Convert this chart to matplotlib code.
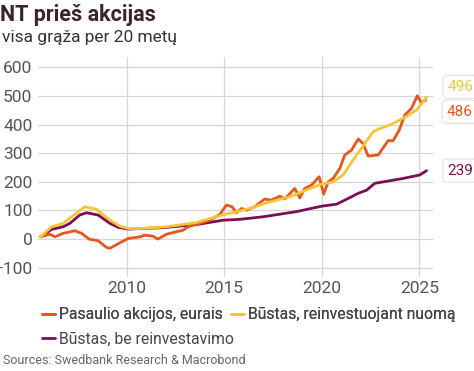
import numpy as np
import matplotlib.pyplot as plt

plt.rcParams['font.family'] = ['Roboto', 'DejaVu Sans']

# Pasaulio akcijos, eurais (world stocks, EUR) - cumulative return, %
stocks_x = [2005.6, 2006.07, 2006.33, 2006.75, 2007.35, 2007.7, 2008.08, 2008.55, 2008.97, 2009.15,
            2009.66, 2010.08, 2010.7, 2010.94, 2011.36, 2011.6, 2012.05, 2012.56, 2012.9, 2013.15,
            2013.75, 2014.27, 2014.78, 2015.12, 2015.4, 2015.64, 2015.89, 2016.15, 2016.57, 2017.08,
            2017.43, 2017.85, 2018.1, 2018.62, 2018.88, 2019.13, 2019.48, 2019.87, 2020.1, 2020.33,
            2020.58, 2020.93, 2021.18, 2021.53, 2021.87, 2022.12, 2022.38, 2022.9, 2023.4, 2023.66,
            2023.97, 2024.26, 2024.6, 2024.9, 2025.11, 2025.33]
stocks_y = [8, 17, 8, 20, 29, 20, 0, -6, -29, -32,
            -13, 2, 8, 14, 10, 0, 17, 26, 31, 43,
            55, 66, 86, 119, 113, 92, 107, 101, 113, 140,
            136, 150, 140, 177, 144, 177, 189, 218, 157, 200,
            212, 247, 294, 311, 350, 334, 290, 294, 344, 344,
            381, 434, 457, 501, 477, 486]

# Būstas, reinvestuojant nuomą (housing incl. reinvested rent)
rent_x = [2005.6, 2006.16, 2006.75, 2007.18, 2007.86, 2008.46, 2009.15, 2009.66, 2010.08, 2010.7,
          2011.9, 2012.9, 2013.6, 2014.27, 2015.0, 2015.3, 2016.3, 2017.34, 2018.37, 2019.4,
          2020.0, 2020.58, 2021.1, 2021.6, 2022.12, 2022.63, 2023.0, 2023.5, 2024.17, 2024.86, 2025.37]
rent_y = [8, 43, 55, 78, 113, 104, 66, 45, 37, 37,
          42, 51, 58, 72, 86, 90, 107, 130, 148, 177,
          192, 200, 224, 276, 325, 375, 387, 399, 422, 451, 496]

# Būstas, be reinvestavimo (housing, price only)
price_x = [2005.6, 2006.16, 2006.75, 2007.1, 2007.6, 2007.95, 2008.55, 2009.15, 2009.57, 2010.08,
           2011.9, 2013.6, 2014.95, 2015.8, 2017.0, 2018.7, 2020.0, 2020.76, 2021.18, 2021.87,
           2022.3, 2022.72, 2023.15, 2024.17, 2025.02, 2025.37]
price_y = [8, 34, 43, 55, 84, 92, 84, 55, 41, 35,
           40, 51, 66, 69, 78, 96, 115, 122, 136, 160,
           171, 195, 200, 212, 224, 239]

labels = ['Pasaulio akcijos, eurais', 'Būstas, reinvestuojant nuomą', 'Būstas, be reinvestavimo']
colors = ['#e8561e', '#f6c436', '#7b0f55']
end_labels = ['486', '496', '239']
label_offsets = [-8.5, 7.5, 0]  # points, so labels do not overlap

fig = plt.figure(figsize=(4.74, 3.71), dpi=100)
ax = fig.add_axes([0.080, 0.253, 0.833, 0.593])

series = [(stocks_x, stocks_y), (rent_x, rent_y), (price_x, price_y)]
handles = []
for (xs, ys), c, lab in zip(series, colors, labels):
    h, = ax.plot(xs, ys, color=c, lw=2.0, solid_capstyle='round', solid_joinstyle='round', label=lab)
    handles.append(h)

# yellow drawn above orange like in the reference
handles[1].set_zorder(3)
handles[0].set_zorder(2.5)

ax.set_xlim(2005.46, 2025.69)
ax.set_ylim(-133, 636)
ax.set_yticks(range(-100, 601, 100))
ax.set_xticks([2010, 2015, 2020, 2025])
ax.grid(True, color='#d6d6d6', lw=0.9)
ax.set_axisbelow(True)
for s in ax.spines.values():
    s.set_visible(False)
ax.tick_params(length=0, labelsize=12.5, colors='#555555', pad=4)
ax.tick_params(axis='x', pad=3)

# end value call-outs
for (xs, ys), c, txt, off in zip(series, colors, end_labels, label_offsets):
    ax.annotate(txt, xy=(xs[-1], ys[-1]), xycoords='data',
                xytext=(15, off), textcoords='offset points', va='center', ha='left',
                fontsize=11, color=c, annotation_clip=False,
                bbox=dict(boxstyle='round,pad=0.3', fc='white', ec='#e2e2e2', lw=0.8))

fig.text(0.0, 0.99, 'NT prieš akcijas', fontsize=15.5, fontweight='bold', color='#3d2228',
         va='top', ha='left')
fig.text(0.004, 0.918, 'visa grąža per 20 metų', fontsize=12.5, color='#333333', va='top', ha='left')

# legend flows like text: two entries in row 1, one in row 2
leg_kw = dict(frameon=False, fontsize=11.3, handlelength=0.85, handletextpad=0.25,
              columnspacing=0.5, labelcolor='#444444', borderaxespad=0, borderpad=0)
leg1 = fig.legend(handles=[handles[0], handles[1]], loc='center left',
                  bbox_to_anchor=(0.088, 0.151), ncol=2, **leg_kw)
fig.add_artist(leg1)
fig.legend(handles=[handles[2]], loc='center left', bbox_to_anchor=(0.088, 0.086), **leg_kw)

fig.text(0.006, 0.012, 'Sources: Swedbank Research & Macrobond', fontsize=9, color='#666666',
         va='bottom', ha='left')

fig.savefig('out.png', dpi=100)
